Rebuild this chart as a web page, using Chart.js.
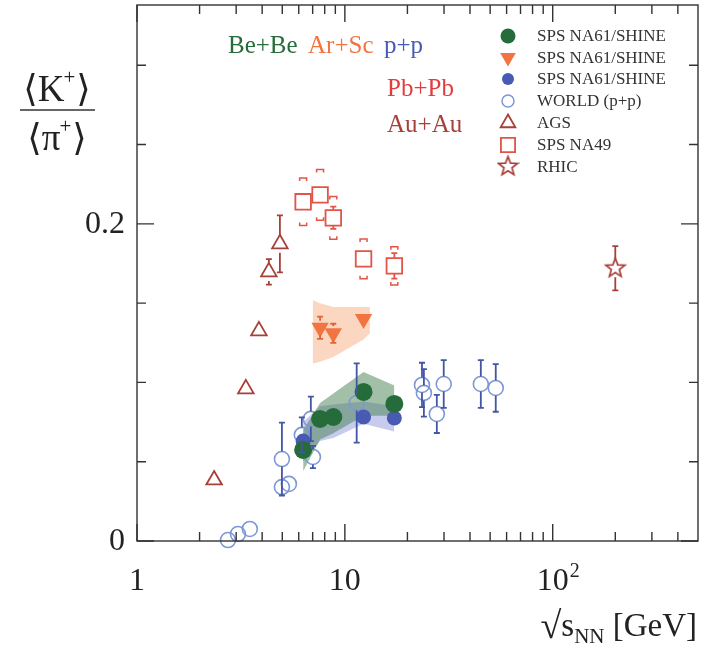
<!DOCTYPE html>
<html>
<head>
<meta charset="utf-8">
<script src="https://cdn.jsdelivr.net/npm/chart.js@4.4.0/dist/chart.umd.min.js"></script>
<style>
  html, body { margin: 0; padding: 0; background: #fff; }
  canvas { display: block; }
</style>
</head>
<body>
<canvas id="kpiChart" width="705" height="649"></canvas>
<script>
/* K+/pi+ ratio vs collision energy */

// ── data ─────────────────────────────────────────────
const beBeX = [6.3, 7.6, 8.8, 12.3, 17.3];
const beBeY = [0.0574, 0.077, 0.0782, 0.094, 0.0864];
const beBeErr = [0.003, 0.003, 0.003, 0.003, 0.003];
const beBeBandHi = [0.070, 0.087, 0.093, 0.1066, 0.098];
const beBeBandLo = [0.044, 0.064, 0.068, 0.079, 0.079];

const arScX = [7.6, 8.8, 12.3];
const arScY = [0.1345, 0.131, 0.140];
const arScErr = [0.007, 0.006, 0.003];
const arScBandX = [7.0, 7.6, 8.8, 12.3, 13.2];
const arScBandHi = [0.152, 0.150, 0.1476, 0.1476, 0.1476];
const arScBandLo = [0.112, 0.113, 0.116, 0.127, 0.131];

const ppX = [6.3, 7.6, 8.8, 12.3, 17.3];
const ppY = [0.063, 0.077, 0.078, 0.0782, 0.0776];
const ppErr = [0.003, 0.003, 0.003, 0.003, 0.003];
const ppBandHi = [0.075, 0.085, 0.086, 0.088, 0.085];
const ppBandLo = [0.050, 0.063, 0.065, 0.074, 0.069];

const worldX = [2.74, 3.06, 3.49, 4.98, 4.98, 5.38, 6.21, 6.86, 7.02, 11.4, 23.5, 24.0, 27.7, 29.9, 45.1, 53.2];
const worldY = [0.0006, 0.0044, 0.0076, 0.0517, 0.034, 0.036, 0.0669, 0.077, 0.053, 0.087, 0.0984, 0.0934, 0.0801, 0.099, 0.099, 0.0965];
const worldErr = [0, 0, 0, 0.023, 0.003, 0.003, 0.011, 0.014, 0.007, 0.025, 0.014, 0.015, 0.012, 0.015, 0.015, 0.015];

const agsX = [2.35, 3.34, 3.86, 4.31, 4.87];
const agsY = [0.0385, 0.0959, 0.1325, 0.1697, 0.1874];
const agsErr = [0.002, 0.002, 0.003, 0.008, 0.018];

const na49X = [6.3, 7.6, 8.8, 12.3, 17.3];
const na49Y = [0.2139, 0.2183, 0.2038, 0.1779, 0.1735];
const na49Stat = [0.004, 0.004, 0.007, 0.004, 0.008];
const na49Sys = [0.015, 0.016, 0.0135, 0.0125, 0.012];

const rhicX = [200];
const rhicY = [0.172];
const rhicErr = [0.014];

const xMajorTicks = [1, 10, 100];
const xMajorLabels = ['1', '10', '10^2'];
const xMinorTicks = [2, 3, 4, 5, 6, 7, 8, 9, 20, 30, 40, 50, 60, 70, 80, 90, 200, 300, 400];
const yMajorTicks = [0, 0.2];
const yMajorLabels = ['0', '0.2'];
const yMinorTicks = [0.05, 0.1, 0.15, 0.25, 0.3];

const legendLabels = ['SPS NA61/SHINE', 'SPS NA61/SHINE', 'SPS NA61/SHINE', 'WORLD (p+p)', 'AGS', 'SPS NA49', 'RHIC'];

// ── styles ───────────────────────────────────────────
const GREEN = 'rgb(38,108,58)';
const ORANGE = 'rgb(242,116,64)';
const BLUE = 'rgb(72,90,178)';
const WORLD = 'rgb(125,152,214)';
const WORLD_BAR = 'rgb(66,86,166)';
const BROWN = 'rgb(168,64,58)';
const RED = 'rgb(226,84,70)';
const FRAME = '#333';
const SERIF = '"Liberation Serif", "DejaVu Serif", serif';

function pts(xs, ys) { return xs.map((x, i) => ({ x: x, y: ys[i] })); }

function makeStar(color, size) {
  const c = document.createElement('canvas');
  c.width = c.height = size;
  const g = c.getContext('2d');
  const R = size / 2 - 1.5, r = R * 0.42;
  g.beginPath();
  for (let i = 0; i < 10; i++) {
    const a = -Math.PI / 2 + i * Math.PI / 5;
    const rr = i % 2 ? r : R;
    g.lineTo(size / 2 + rr * Math.cos(a), size / 2 + rr * Math.sin(a));
  }
  g.closePath();
  g.strokeStyle = color;
  g.lineWidth = 1.7;
  g.stroke();
  return c;
}
const STAR = makeStar(BROWN, 23);

function band(xs, hi, lo, color) {
  return [
    { type: 'line', data: pts(xs, hi), borderWidth: 0, pointRadius: 0, fill: '+1', backgroundColor: color, tension: 0 },
    { type: 'line', data: pts(xs, lo), borderWidth: 0, pointRadius: 0, fill: false, tension: 0 }
  ];
}

// ── error bars (through the scales) ─────────────────
const errSeries = [
  { xs: worldX, ys: worldY, err: worldErr, color: WORLD_BAR, gap: 7.5 },
  { xs: agsX, ys: agsY, err: agsErr, color: BROWN, gap: 9 },
  { xs: na49X, ys: na49Y, err: na49Stat, color: RED, gap: 8 },
  { xs: rhicX, ys: rhicY, err: rhicErr, color: BROWN, gap: 9 },
  { xs: arScX, ys: arScY, err: arScErr, color: 'rgb(225,100,55)', gap: 7 },
  { xs: beBeX, ys: beBeY, err: beBeErr, color: GREEN, gap: 9 },
  { xs: ppX, ys: ppY, err: ppErr, color: BLUE, gap: 7.5 }
];

const errorBars = {
  id: 'errorBars',
  afterDatasetsDraw(chart) {
    const { ctx, scales: { x, y } } = chart;
    ctx.save();
    ctx.lineWidth = 1.8;
    errSeries.forEach(s => {
      ctx.strokeStyle = s.color;
      s.xs.forEach((xv, i) => {
        const px = x.getPixelForValue(xv);
        const py = y.getPixelForValue(s.ys[i]);
        const top = y.getPixelForValue(s.ys[i] + s.err[i]);
        const bot = y.getPixelForValue(s.ys[i] - s.err[i]);
        if (py - top <= s.gap) return;
        ctx.beginPath();
        ctx.moveTo(px, top); ctx.lineTo(px, py - s.gap);
        ctx.moveTo(px, py + s.gap); ctx.lineTo(px, bot);
        ctx.moveTo(px - 3, top); ctx.lineTo(px + 3, top);
        ctx.moveTo(px - 3, bot); ctx.lineTo(px + 3, bot);
        ctx.stroke();
      });
    });
    // NA49 systematic brackets
    ctx.strokeStyle = RED;
    ctx.lineWidth = 1.5;
    na49X.forEach((xv, i) => {
      const px = x.getPixelForValue(xv);
      const top = y.getPixelForValue(na49Y[i] + na49Sys[i]);
      const bot = y.getPixelForValue(na49Y[i] - na49Sys[i]);
      ctx.beginPath();
      ctx.moveTo(px - 3.5, top + 3); ctx.lineTo(px - 3.5, top); ctx.lineTo(px + 3.5, top); ctx.lineTo(px + 3.5, top + 3);
      ctx.moveTo(px - 3.5, bot - 3); ctx.lineTo(px - 3.5, bot); ctx.lineTo(px + 3.5, bot); ctx.lineTo(px + 3.5, bot - 3);
      ctx.stroke();
    });
    ctx.restore();
  }
};

// ── frame, ticks, labels, legend ────────────────────
function drawSup(ctx, text, xc, yb, size) {
  const parts = text.split('^');
  ctx.font = size + 'px ' + SERIF;
  const w = ctx.measureText(parts[0]).width;
  ctx.textAlign = 'left';
  ctx.fillText(parts[0], xc - w / 2, yb);
  if (parts[1]) {
    ctx.font = Math.round(size * 0.62) + 'px ' + SERIF;
    ctx.fillText(parts[1], xc + w / 2 + 1, yb - size * 0.42);
  }
}

const legendStyles = [
  { pointStyle: 'circle', radius: 7.5, fill: GREEN, stroke: GREEN, bw: 0 },
  { pointStyle: 'triangle', rotation: 180, radius: 9, fill: ORANGE, stroke: ORANGE, bw: 0 },
  { pointStyle: 'circle', radius: 6, fill: BLUE, stroke: BLUE, bw: 0 },
  { pointStyle: 'circle', radius: 6, fill: 'rgba(0,0,0,0)', stroke: WORLD, bw: 1.5 },
  { pointStyle: 'triangle', radius: 8.5, fill: 'rgba(0,0,0,0)', stroke: BROWN, bw: 1.8 },
  { pointStyle: 'rect', radius: 10, fill: 'rgba(0,0,0,0)', stroke: RED, bw: 1.8 },
  { pointStyle: STAR, radius: 10, fill: BROWN, stroke: BROWN, bw: 0 }
];

const frame = {
  id: 'frame',
  afterDraw(chart) {
    const { ctx, chartArea: a, scales: { x, y } } = chart;
    ctx.save();
    ctx.strokeStyle = FRAME;
    ctx.lineWidth = 1.4;
    ctx.strokeRect(a.left, a.top, a.right - a.left, a.bottom - a.top);
    ctx.beginPath();
    const xt = (v, len) => {
      const p = x.getPixelForValue(v);
      ctx.moveTo(p, a.bottom); ctx.lineTo(p, a.bottom - len);
      ctx.moveTo(p, a.top); ctx.lineTo(p, a.top + len);
    };
    const yt = (v, len) => {
      const p = y.getPixelForValue(v);
      ctx.moveTo(a.left, p); ctx.lineTo(a.left + len, p);
      ctx.moveTo(a.right, p); ctx.lineTo(a.right - len, p);
    };
    xMajorTicks.forEach(v => xt(v, 17));
    xMinorTicks.forEach(v => xt(v, 9));
    yMajorTicks.forEach(v => yt(v, 17));
    yMinorTicks.forEach(v => yt(v, 9));
    ctx.stroke();

    // tick labels
    ctx.fillStyle = '#222';
    ctx.textBaseline = 'alphabetic';
    xMajorTicks.forEach((v, i) => drawSup(ctx, xMajorLabels[i], x.getPixelForValue(v), 590, 32));
    ctx.font = '32px ' + SERIF;
    ctx.textAlign = 'right';
    ctx.textBaseline = 'middle';
    yMajorTicks.forEach((v, i) => ctx.fillText(yMajorLabels[i], a.left - 12, y.getPixelForValue(v) + 1));

    // x title: sqrt(s_NN) [GeV]
    ctx.textBaseline = 'alphabetic';
    ctx.textAlign = 'left';
    const big = '33px ' + SERIF, small = '21px ' + SERIF;
    ctx.font = '38px ' + SERIF;
    const wRad = ctx.measureText('\u221A').width;
    ctx.font = big;
    const wS = ctx.measureText('s').width;
    const wG = ctx.measureText(' [GeV]').width;
    ctx.font = small;
    const wN = ctx.measureText('NN').width;
    let tx = 697 - (wRad + wS + wN + wG);
    ctx.font = '38px ' + SERIF;
    ctx.fillText('\u221A', tx, 638); tx += wRad;
    ctx.font = big;
    ctx.fillText('s', tx, 636); tx += wS;
    ctx.font = small;
    ctx.fillText('NN', tx, 643); tx += wN;
    ctx.font = big;
    ctx.fillText(' [GeV]', tx, 636);

    // y title: <K+>/<pi+>
    ctx.textAlign = 'left';
    const frac = (base, cx, yb) => {
      ctx.font = '37px ' + SERIF;
      const wl = ctx.measureText('\u27E8').width;
      const wb = ctx.measureText(base).width;
      const wr = ctx.measureText('\u27E9').width;
      ctx.font = '21px ' + SERIF;
      const wp = ctx.measureText('+').width;
      let px = cx - (wl + wb + wp + wr) / 2;
      ctx.font = '37px ' + SERIF;
      ctx.fillText('\u27E8', px, yb); px += wl;
      ctx.fillText(base, px, yb); px += wb;
      ctx.font = '21px ' + SERIF;
      ctx.fillText('+', px - 1, yb - 17); px += wp;
      ctx.font = '37px ' + SERIF;
      ctx.fillText('\u27E9', px, yb);
    };
    frac('K', 57, 101);
    frac('\u03C0', 57, 150);
    ctx.beginPath();
    ctx.lineWidth = 1.5;
    ctx.moveTo(20, 110); ctx.lineTo(95, 110);
    ctx.stroke();

    // system labels
    ctx.font = '25px ' + SERIF;
    [['Be+Be', GREEN, 228, 53], ['Ar+Sc', ORANGE, 308, 53], ['p+p', BLUE, 384, 53],
     ['Pb+Pb', 'rgb(226,60,60)', 387, 96], ['Au+Au', BROWN, 387, 132]].forEach(t => {
      ctx.fillStyle = t[1];
      ctx.fillText(t[0], t[2], t[3]);
    });

    // legend
    ctx.textBaseline = 'middle';
    ctx.font = '17px ' + SERIF;
    const rows = [36, 57.5, 79, 101, 123, 145, 166.5];
    legendLabels.forEach((lab, i) => {
      const st = legendStyles[i];
      ctx.fillStyle = st.fill;
      ctx.strokeStyle = st.stroke;
      ctx.lineWidth = st.bw;
      Chart.helpers.drawPoint(ctx, { pointStyle: st.pointStyle, rotation: st.rotation || 0, radius: st.radius, borderWidth: st.bw }, 508, rows[i]);
      ctx.fillStyle = '#333';
      ctx.fillText(lab, 537, rows[i] + 1);
    });
    ctx.restore();
  }
};

// ── chart ────────────────────────────────────────────
new Chart(document.getElementById('kpiChart'), {
  type: 'scatter',
  data: {
    datasets: [
      { data: pts(beBeX, beBeY), pointStyle: 'circle', pointRadius: 9, pointBackgroundColor: GREEN, pointBorderWidth: 0 },
      { data: pts(arScX, arScY), pointStyle: 'triangle', pointRotation: 180, pointRadius: 10, pointBackgroundColor: ORANGE, pointBorderWidth: 0 },
      { data: pts(ppX, ppY), pointStyle: 'circle', pointRadius: 7.5, pointBackgroundColor: BLUE, pointBorderWidth: 0 },
      { data: pts(worldX, worldY), pointStyle: 'circle', pointRadius: 7.5, pointBackgroundColor: 'rgba(0,0,0,0)', pointBorderColor: WORLD, pointBorderWidth: 1.6, clip: false },
      { data: pts(agsX, agsY), pointStyle: 'triangle', pointRadius: 9, pointBackgroundColor: 'rgba(0,0,0,0)', pointBorderColor: BROWN, pointBorderWidth: 1.8 },
      { data: pts(na49X, na49Y), pointStyle: 'rect', pointRadius: 11, pointBackgroundColor: 'rgba(0,0,0,0)', pointBorderColor: RED, pointBorderWidth: 1.8 },
      { data: pts(rhicX, rhicY), pointStyle: STAR, pointRadius: 11 },
      ...band(arScBandX, arScBandHi, arScBandLo, 'rgba(250,200,172,0.75)'),
      ...band(beBeX, beBeBandHi, beBeBandLo, 'rgba(70,128,80,0.5)'),
      ...band(ppX, ppBandHi, ppBandLo, 'rgba(130,140,215,0.45)')
    ]
  },
  options: {
    responsive: false,
    animation: false,
    events: [],
    layout: { autoPadding: false, padding: { left: 137, right: 7, top: 5, bottom: 108 } },
    scales: {
      x: { type: 'logarithmic', min: 1, max: 500, display: false },
      y: { type: 'linear', min: 0, max: 0.338, display: false }
    },
    plugins: { legend: { display: false }, tooltip: { enabled: false } }
  },
  plugins: [errorBars, frame]
});
</script>
</body>
</html>
